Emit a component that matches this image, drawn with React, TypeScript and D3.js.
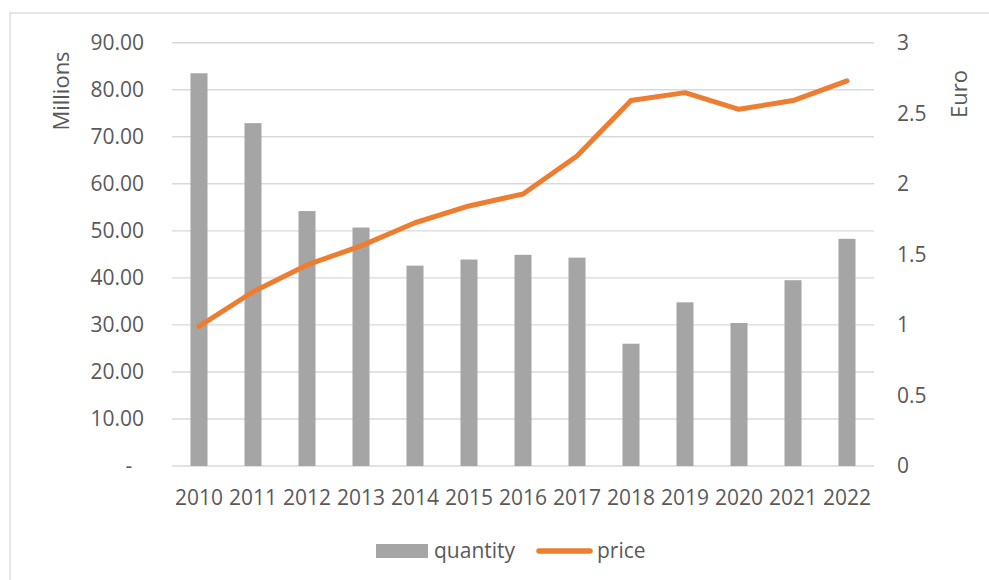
import React from "react";
import * as d3 from "d3";

const years = ["2010","2011","2012","2013","2014","2015","2016","2017","2018","2019","2020","2021","2022"];
const quantity = [83.5, 72.9, 54.2, 50.7, 42.6, 43.9, 44.9, 44.3, 26.0, 34.8, 30.4, 39.5, 48.3];
const price = [0.99, 1.235, 1.425, 1.56, 1.724, 1.843, 1.928, 2.197, 2.59, 2.646, 2.528, 2.59, 2.73];
const leftTicks = [0, 10, 20, 30, 40, 50, 60, 70, 80, 90];
const rightTicks = [0, 0.5, 1, 1.5, 2, 2.5, 3];

const W = 989, H = 580;
const FONT = "'Open Sans', sans-serif";
const TXT = "#595959";

export default function App() {
  const x = d3.scaleBand<string>().domain(years).range([172, 874]).paddingInner(0.685).paddingOuter(0.3425);
  const yL = d3.scaleLinear().domain([0, 90]).range([466, 42.7]);
  const yR = d3.scaleLinear().domain([0, 3]).range([466, 42.7]);
  const cx = (y: string) => (x(y) as number) + x.bandwidth() / 2;
  const line = d3.line<number>().x((_, i) => cx(years[i])).y((d) => yR(d));

  return (
    <div style={{ position: "absolute", left: 0, top: 0 }}>
      <svg width={W} height={H} style={{ display: "block", background: "#fff" }}>
        <rect x={10} y={13} width={1000} height={600} fill="#fff" stroke="#D9D9D9" strokeWidth={1.3} />
        {leftTicks.map((t) => (
          <line key={"g" + t} x1={172} x2={874} y1={yL(t)} y2={yL(t)} stroke="#D9D9D9" strokeWidth={1.4} />
        ))}
        {years.map((y, i) => (
          <rect key={y} x={x(y)} y={yL(quantity[i])} width={x.bandwidth()} height={yL(0) - yL(quantity[i])} fill="#A5A5A5" />
        ))}
        <path d={line(price) as string} fill="none" stroke="#ED7D31" strokeWidth={5} strokeLinecap="round" strokeLinejoin="round" />
        {leftTicks.map((t) =>
          t === 0 ? (
            <text key={"l" + t} x={129} y={yL(t)} dy="0.35em" textAnchor="middle" fontFamily={FONT} fontSize={21} fill={TXT}>-</text>
          ) : (
            <text key={"l" + t} x={144} y={yL(t)} dy="0.35em" textAnchor="end" fontFamily={FONT} fontSize={21} fill={TXT}>{t.toFixed(2)}</text>
          )
        )}
        {rightTicks.map((t) => (
          <text key={"r" + t} x={897} y={yR(t)} dy="0.35em" textAnchor="start" fontFamily={FONT} fontSize={21} fill={TXT}>{String(t)}</text>
        ))}
        {years.map((y) => (
          <text key={"x" + y} x={cx(y)} y={497.5} dy="0.35em" textAnchor="middle" fontFamily={FONT} fontSize={21} fill={TXT}>{y}</text>
        ))}
        <text transform="translate(61,91) rotate(-90)" dy="0.35em" textAnchor="middle" fontFamily={FONT} fontSize={22} fill={TXT}>Millions</text>
        <text transform="translate(959,94) rotate(-90)" dy="0.35em" textAnchor="middle" fontFamily={FONT} fontSize={22} fill={TXT}>Euro</text>
        <rect x={376} y={544} width={52} height={14} fill="#A5A5A5" />
        <text x={434} y={551} dy="0.35em" fontFamily={FONT} fontSize={21} fill={TXT}>quantity</text>
        <line x1={539} x2={590} y1={551} y2={551} stroke="#ED7D31" strokeWidth={5.5} strokeLinecap="round" />
        <text x={597} y={551} dy="0.35em" fontFamily={FONT} fontSize={21} fill={TXT}>price</text>
      </svg>
    </div>
  );
}
